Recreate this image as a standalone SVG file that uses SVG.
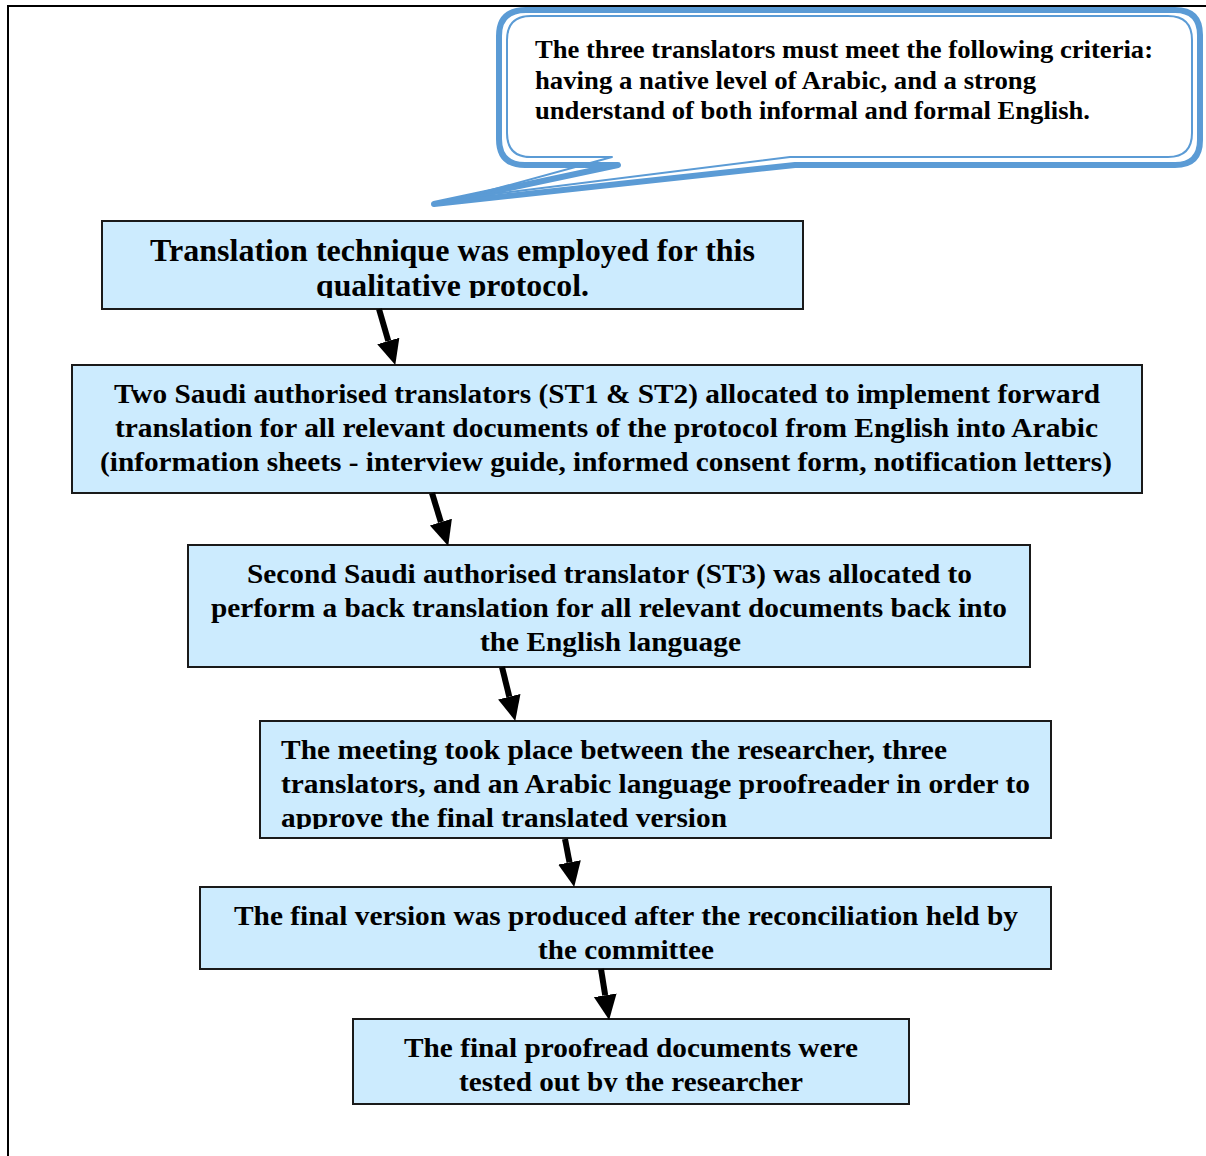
<svg xmlns="http://www.w3.org/2000/svg" width="1206" height="1156" viewBox="0 0 1206 1156">
  <style>
    .box { fill: #CCEBFE; stroke: #1a1a1a; stroke-width: 2; }
    .t { font-family: "Liberation Serif", "Times New Roman", serif; font-weight: bold; fill: #000; }
    .t30 { font-size: 31px; }
    .t27 { font-size: 28px; }
    .t24 { font-size: 25px; }
    .conn { stroke: #000; stroke-width: 6; fill: none; marker-end: url(#head); }
    .callout-outer { fill: #fff; stroke: #5B9BD5; stroke-width: 6; stroke-linejoin: round; }
    .callout-inner { fill: none; stroke: #5B9BD5; stroke-width: 2; stroke-linejoin: round; }
  </style>
  <defs>
    <marker id="head" markerUnits="userSpaceOnUse" markerWidth="26" markerHeight="26" refX="0" refY="12" orient="auto" viewBox="0 0 26 24">
      <path d="M0,0.5 L25,12 L0,23.5 Z" fill="#000"/>
    </marker>
    <clipPath id="clip1"><rect x="100" y="220" width="705" height="78"/></clipPath>
    <clipPath id="clip4"><rect x="258" y="720" width="795" height="109"/></clipPath>
    <clipPath id="clip6"><rect x="352" y="1018" width="560" height="74"/></clipPath>
  </defs>

  <!-- page frame -->
  <path d="M8,1156 V6 H1206" fill="none" stroke="#000" stroke-width="2"/>

  <!-- criteria callout -->
  <g id="callout">
    <path class="callout-outer" d="M526,10 H1175 Q1200,10 1200,35 V140 Q1200,165 1175,165 H795 L434,204 L618,165 H525 Q499,165 499,139 V36 Q499,10 526,10 Z"/>
    <path class="callout-inner" d="M531,16 H1168 Q1192,16 1192,40 V133 Q1192,157 1168,157 H790 L462,198 L612,157 H531 Q507,157 507,133 V40 Q507,16 531,16 Z"/>
    <text class="t t24" x="535" y="58" textLength="618" lengthAdjust="spacingAndGlyphs">The three translators must meet the following criteria:</text>
    <text class="t t24" x="535" y="89" textLength="501" lengthAdjust="spacingAndGlyphs">having a native level of Arabic, and a strong</text>
    <text class="t t24" x="535" y="119" textLength="555" lengthAdjust="spacingAndGlyphs">understand of both informal and formal English.</text>
  </g>

  <!-- step 1 -->
  <g id="step1">
    <rect class="box" x="102" y="221" width="701" height="88"/>
    <g clip-path="url(#clip1)">
      <text class="t t30" x="150" y="261" textLength="605" lengthAdjust="spacingAndGlyphs">Translation technique was employed for this</text>
      <text class="t t30" x="316" y="296" textLength="273" lengthAdjust="spacingAndGlyphs">qualitative protocol.</text>
    </g>
  </g>

  <!-- step 2 -->
  <g id="step2">
    <rect class="box" x="72" y="365" width="1070" height="128"/>
    <text class="t t27" x="114" y="403" textLength="986" lengthAdjust="spacingAndGlyphs">Two Saudi authorised translators (ST1 &amp; ST2) allocated to implement forward</text>
    <text class="t t27" x="115" y="437" textLength="983" lengthAdjust="spacingAndGlyphs">translation for all relevant documents of the protocol from English into Arabic</text>
    <text class="t t27" x="100" y="471" textLength="1012" lengthAdjust="spacingAndGlyphs">(information sheets - interview guide, informed consent form, notification letters)</text>
  </g>

  <!-- step 3 -->
  <g id="step3">
    <rect class="box" x="188" y="545" width="842" height="122"/>
    <text class="t t27" x="247" y="583" textLength="725" lengthAdjust="spacingAndGlyphs">Second Saudi authorised translator (ST3) was allocated to</text>
    <text class="t t27" x="211" y="617" textLength="796" lengthAdjust="spacingAndGlyphs">perform a back translation for all relevant documents back into</text>
    <text class="t t27" x="480" y="651" textLength="261" lengthAdjust="spacingAndGlyphs">the English language</text>
  </g>

  <!-- step 4 -->
  <g id="step4">
    <rect class="box" x="260" y="721" width="791" height="117"/>
    <g clip-path="url(#clip4)">
      <text class="t t27" x="281" y="759" textLength="666" lengthAdjust="spacingAndGlyphs">The meeting took place between the researcher, three</text>
      <text class="t t27" x="281" y="793" textLength="749" lengthAdjust="spacingAndGlyphs">translators, and an Arabic language proofreader in order to</text>
      <text class="t t27" x="281" y="827" textLength="446" lengthAdjust="spacingAndGlyphs">approve the final translated version</text>
    </g>
  </g>

  <!-- step 5 -->
  <g id="step5">
    <rect class="box" x="200" y="887" width="851" height="82"/>
    <text class="t t27" x="234" y="925" textLength="784" lengthAdjust="spacingAndGlyphs">The final version was produced after the reconciliation held by</text>
    <text class="t t27" x="538" y="959" textLength="176" lengthAdjust="spacingAndGlyphs">the committee</text>
  </g>

  <!-- step 6 -->
  <g id="step6">
    <rect class="box" x="353" y="1019" width="556" height="85"/>
    <g clip-path="url(#clip6)">
      <text class="t t27" x="404" y="1057" textLength="454" lengthAdjust="spacingAndGlyphs">The final proofread documents were</text>
      <text class="t t27" x="459" y="1091" textLength="344" lengthAdjust="spacingAndGlyphs">tested out by the researcher</text>
    </g>
  </g>

  <!-- connectors -->
  <g id="connectors">
    <line class="conn" x1="379" y1="309" x2="388.3" y2="341"/>
    <line class="conn" x1="432" y1="493" x2="440.9" y2="522.1"/>
    <line class="conn" x1="502" y1="667" x2="509.3" y2="696.7"/>
    <line class="conn" x1="565" y1="839" x2="569.5" y2="862.4"/>
    <line class="conn" x1="601" y1="969" x2="605.2" y2="995.3"/>
  </g>
</svg>
